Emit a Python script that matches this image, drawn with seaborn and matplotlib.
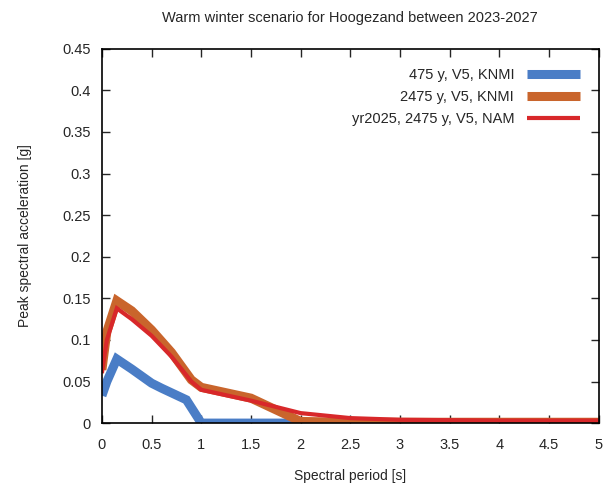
import numpy as np
import pandas as pd
import matplotlib
matplotlib.use("Agg")
import matplotlib.pyplot as plt
import seaborn as sns

# Data
period_475 = [0.0, 0.05, 0.15, 0.3, 0.5, 0.6, 0.85, 1.0, 1.5, 2.0, 3.0, 4.0, 5.0]
psa_475 = [0.033, 0.05, 0.077, 0.065, 0.048, 0.042, 0.028, 0.0, 0.0, 0.0, 0.0, 0.0, 0.0]

period_2475 = [0.0, 0.05, 0.15, 0.3, 0.5, 0.7, 0.9, 1.0, 1.5, 1.75, 2.0, 2.5, 3.0, 4.0, 5.0]
psa_2475 = [0.064, 0.11, 0.147, 0.135, 0.112, 0.085, 0.052, 0.043, 0.03, 0.016, 0.002, 0.001, 0.001, 0.001, 0.001]

period_nam = [0.0, 0.05, 0.15, 0.3, 0.5, 0.7, 0.9, 1.0, 1.5, 2.0, 2.5, 3.0, 4.0, 5.0]
psa_nam = [0.06, 0.1, 0.138, 0.125, 0.105, 0.08, 0.05, 0.04, 0.027, 0.012, 0.006, 0.004, 0.003, 0.003]

labels = ["475 y, V5, KNMI", "2475 y, V5, KNMI", "yr2025, 2475 y, V5, NAM"]
colors = ["#4a7dc6", "#c9652c", "#d8282a"]
widths = [6.5, 6.5, 3.0]

df = pd.concat([
    pd.DataFrame({"period": period_475, "psa": psa_475, "series": labels[0]}),
    pd.DataFrame({"period": period_2475, "psa": psa_2475, "series": labels[1]}),
    pd.DataFrame({"period": period_nam, "psa": psa_nam, "series": labels[2]}),
])

sns.set_theme(style="ticks")
plt.rcParams["font.family"] = ["Liberation Sans", "DejaVu Sans"]

fig = plt.figure(figsize=(6.03, 4.88), dpi=100)
ax = fig.add_axes([0.169, 0.133, 0.824, 0.767])

for lab, col, lw in zip(labels, colors, widths):
    sub = df[df["series"] == lab]
    sns.lineplot(data=sub, x="period", y="psa", ax=ax, color=col, linewidth=lw,
                 label=lab, sort=False, solid_joinstyle="miter", solid_capstyle="butt")

ax.set_xlim(0, 5)
ax.set_ylim(0, 0.45)
xt = np.arange(0, 5.01, 0.5)
yt = np.arange(0, 0.451, 0.05)
ax.set_xticks(xt)
ax.set_xticklabels([f"{v:g}" for v in xt])
ax.set_yticks(yt)
ax.set_yticklabels([f"{v:.2f}".rstrip("0").rstrip(".") if v > 0 else "0" for v in yt])
ax.tick_params(direction="in", top=True, right=True, length=6, width=1, labelsize=10.5)
ax.tick_params(axis="x", pad=11)
ax.tick_params(axis="y", pad=8)
for s in ax.spines.values():
    s.set_linewidth(1.2)
    s.set_color("black")

ax.set_xlabel("Spectral period [s]", fontsize=10, labelpad=12)
ax.set_ylabel("Peak spectral acceleration [g]", fontsize=10, labelpad=22)
ax.set_title("Warm winter scenario for Hoogezand between 2023-2027", fontsize=10.5, pad=19)

leg = ax.legend(loc="upper right", frameon=False, markerfirst=False, fontsize=10.5,
                handlelength=3.6, borderaxespad=0.9, labelspacing=0.55, handletextpad=0.9)
for h in leg.get_lines():
    h.set_solid_capstyle("butt")

fig.savefig("out.png", dpi=100)
